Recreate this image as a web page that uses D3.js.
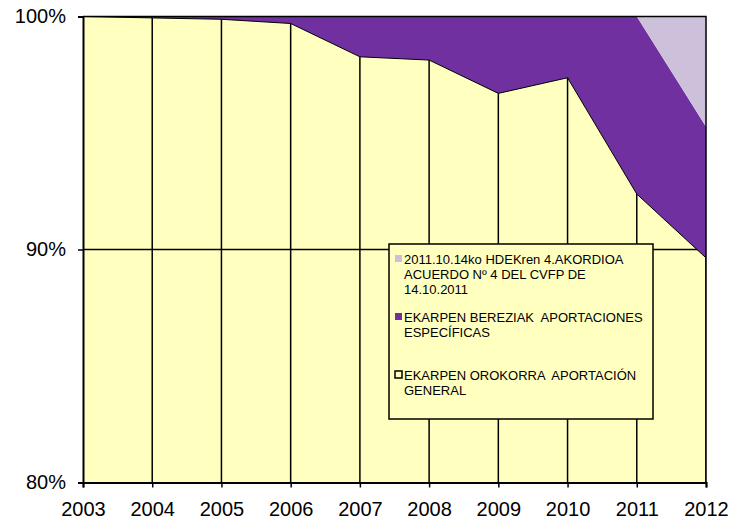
<!DOCTYPE html>
<html>
<head>
<meta charset="utf-8">
<script src="https://cdn.jsdelivr.net/npm/d3@7"></script>
<style>
  body { margin: 0; background: #fff; }
  svg text { font-family: "Liberation Sans", Arial, sans-serif; fill: #000; }
</style>
</head>
<body>
<script>
// data (percent of total)
const years = [2003, 2004, 2005, 2006, 2007, 2008, 2009, 2010, 2011, 2012];
const general   = [100, 99.94, 99.88, 99.70, 98.27, 98.13, 96.70, 97.37, 92.38, 89.64];
const specific  = [0, 0.06, 0.12, 0.30, 1.73, 1.87, 3.30, 2.63, 7.62, 5.63];
const agreement = [0, 0, 0, 0, 0, 0, 0, 0, 0, 4.73];
const yTicks = [80, 90, 100];

const seriesNames = [
  ["EKARPEN OROKORRA  APORTACIÓN", "GENERAL"],
  ["EKARPEN BEREZIAK  APORTACIONES", "ESPECÍFICAS"],
  ["2011.10.14ko HDEKren 4.AKORDIOA", "ACUERDO Nº 4 DEL CVFP DE", "14.10.2011"]
];
const colors = ["#FFFFC0", "#7030A0", "#CCC0DA"];

const width = 731, height = 520;
const pLeft = 83, pRight = 706, pTop = 16.5, pBottom = 482.5;

const rows = years.map((y, i) => ({year: y, general: general[i], specific: specific[i], agreement: agreement[i]}));
const keys = ["general", "specific", "agreement"];
const stacked = d3.stack().keys(keys)(rows);

const x = d3.scaleLinear().domain([2003, 2012]).range([pLeft, pRight]);
const y = d3.scaleLinear().domain([80, 100]).range([pBottom, pTop]);

const svg = d3.select("body").append("svg")
  .attr("width", width).attr("height", height);

const area = d3.area()
  .x(d => x(d.data.year))
  .y0(d => y(Math.max(80, d[0])))
  .y1(d => y(Math.min(100, d[1])));

svg.append("clipPath").attr("id", "plot")
  .append("rect").attr("x", pLeft).attr("y", pTop)
  .attr("width", pRight - pLeft).attr("height", pBottom - pTop);

const g = svg.append("g").attr("clip-path", "url(#plot)");

// general series first
g.append("path").datum(stacked[0])
  .attr("d", area).attr("fill", colors[0]);

// gridline at 90%
g.append("line")
  .attr("x1", pLeft).attr("x2", pRight)
  .attr("y1", y(90)).attr("y2", y(90))
  .attr("stroke", "#000").attr("stroke-width", 1.5);

g.selectAll("path.upper").data(stacked.slice(1)).enter()
  .append("path").attr("class", "upper")
  .attr("d", area).attr("fill", (d, i) => colors[i + 1]);

// outline of general series
g.append("path").datum(stacked[0])
  .attr("d", d3.line().x(d => x(d.data.year)).y(d => y(d[1])))
  .attr("fill", "none").attr("stroke", "#000").attr("stroke-width", 1);

// drop lines
g.selectAll("line.drop").data(rows).enter()
  .append("line").attr("class", "drop")
  .attr("x1", d => x(d.year)).attr("x2", d => x(d.year))
  .attr("y1", y(80)).attr("y2", d => y(d.general))
  .attr("stroke", "#000").attr("stroke-width", 1.5);

// plot border (top / right)
svg.append("path")
  .attr("d", `M${pLeft},${pTop}H${pRight}V${pBottom}`)
  .attr("fill", "none").attr("stroke", "#000").attr("stroke-width", 1.5);

// axes
const xAxis = d3.axisBottom(x).tickValues(years).tickFormat(d3.format("d")).tickSize(5).tickPadding(14);
const yAxis = d3.axisLeft(y).tickValues(yTicks).tickFormat(d => d + "%").tickSize(5).tickPadding(12);

const gx = svg.append("g").attr("transform", `translate(0,${pBottom})`).call(xAxis);
const gy = svg.append("g").attr("transform", `translate(${pLeft},0)`).call(yAxis);
[gx, gy].forEach(a => {
  a.attr("font-size", null);
  a.select(".domain").attr("stroke", "#000").attr("stroke-width", 2);
  a.selectAll(".tick line").attr("stroke", "#000").attr("stroke-width", 1.5);
  a.selectAll(".tick text").style("font-size", "20px");
});

// legend
const lg = svg.append("g");
lg.append("rect")
  .attr("x", 389).attr("y", 244).attr("width", 264).attr("height", 175)
  .attr("fill", "#FFFFC0").attr("stroke", "#000").attr("stroke-width", 1.5);

const legendItems = [
  {idx: 2, y: 259},
  {idx: 1, y: 317},
  {idx: 0, y: 375}
];
legendItems.forEach(it => {
  lg.append("rect")
    .attr("x", 395).attr("y", it.y - 4).attr("width", 7).attr("height", 7)
    .attr("fill", colors[it.idx])
    .attr("stroke", it.idx === 0 ? "#000" : "none").attr("stroke-width", 1.5);
  const t = lg.append("text").attr("x", 404).attr("y", it.y)
    .style("font-size", "13px").style("white-space", "pre").attr("fill", "#222");
  seriesNames[it.idx].forEach((line, j) => {
    t.append("tspan").attr("x", 404).attr("dy", j === 0 ? "0.35em" : "15").text(line);
  });
});
</script>
</body>
</html>
